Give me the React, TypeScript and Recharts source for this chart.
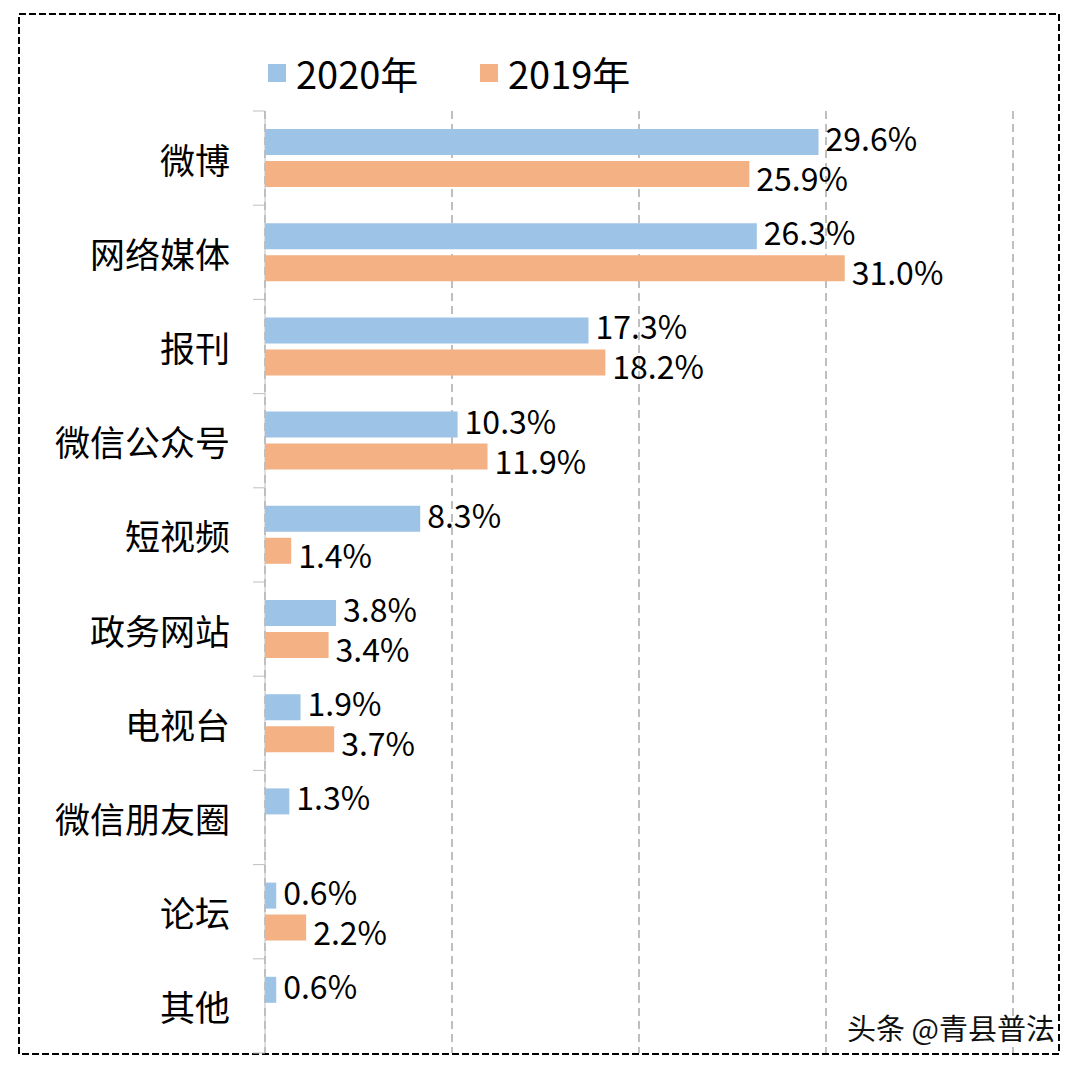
import React from 'react';
import { BarChart, Bar, XAxis, YAxis, CartesianGrid, LabelList } from 'recharts';

const categories = ['微博', '网络媒体', '报刊', '微信公众号', '短视频', '政务网站', '电视台', '微信朋友圈', '论坛', '其他'];
const values2020: (number | null)[] = [29.6, 26.3, 17.3, 10.3, 8.3, 3.8, 1.9, 1.3, 0.6, 0.6];
const values2019: (number | null)[] = [25.9, 31.0, 18.2, 11.9, 1.4, 3.4, 3.7, null, 2.2, null];
const xTicks = [0, 10, 20, 30, 40];
const seriesNames = ['2020年', '2019年'];
const seriesColors = ['#9DC3E6', '#F4B183'];
const watermark = '头条 @青县普法';

const data = categories.map((name, i) => ({ name, v2020: values2020[i], v2019: values2019[i] }));

const W = 1080;
const H = 1070;
const MARGIN = { top: 111, right: 67, bottom: 17, left: 0 };
const FONT = '"Noto Sans CJK SC", "Noto Sans", sans-serif';
const BAND = (H - MARGIN.top - MARGIN.bottom) / categories.length;

const CategoryTick = (props: any) => {
  const { x, y, payload, index } = props;
  const half = payload && typeof payload.offset === 'number' && payload.offset > 0 ? payload.offset : BAND / 2;
  return (
    <g>
      <line x1={x - 12} x2={x} y1={y - half} y2={y - half} stroke="#BFBFBF" strokeWidth={1} />
      {index === categories.length - 1 && (
        <line x1={x - 12} x2={x} y1={y + half} y2={y + half} stroke="#BFBFBF" strokeWidth={1} />
      )}
      <text x={x - 35} y={y} textAnchor="end" dominantBaseline="central" fontSize={35} fill="#000" fontFamily={FONT}>
        {payload.value}
      </text>
    </g>
  );
};

const makeLabel = (dy: number) => (props: any) => {
  const { x, y, width, height, value } = props;
  if (value === null || value === undefined || value === '') return null;
  return (
    <text
      x={Number(x) + Number(width) + 7}
      y={Number(y) + Number(height) / 2 + dy}
      dominantBaseline="central"
      fontSize={32}
      fill="#000"
      fontFamily={FONT}
    >
      {Number(value).toFixed(1)}%
    </text>
  );
};

const Label2020 = makeLabel(-5);
const Label2019 = makeLabel(3);

export default function App() {
  return (
    <div style={{ position: 'absolute', left: 0, top: 0, width: W, height: H, background: '#fff', fontFamily: FONT }}>
      <svg width={W} height={H} style={{ position: 'absolute', left: 0, top: 0 }}>
        <rect x={19} y={14} width={1040} height={1040} fill="none" stroke="#000" strokeWidth={2} strokeDasharray="7 3" />
      </svg>
      <div style={{ position: 'absolute', left: 0, top: 0 }}>
        <BarChart
          width={W}
          height={H}
          data={data}
          layout="vertical"
          margin={MARGIN}
          barSize={26}
          barGap={6}
        >
          <CartesianGrid horizontal={false} vertical={true} stroke="#7F7F7F" strokeDasharray="8 5" />
          <XAxis type="number" domain={[0, 40]} ticks={xTicks} hide />
          <YAxis
            type="category"
            dataKey="name"
            width={265}
            axisLine={{ stroke: '#BFBFBF', strokeWidth: 1 }}
            tickLine={false}
            tickSize={0}
            tickMargin={0}
            tick={<CategoryTick />}
            interval={0}
          />
          <Bar dataKey="v2020" name={seriesNames[0]} fill={seriesColors[0]} isAnimationActive={false}>
            <LabelList dataKey="v2020" content={<Label2020 />} />
          </Bar>
          <Bar dataKey="v2019" name={seriesNames[1]} fill={seriesColors[1]} isAnimationActive={false}>
            <LabelList dataKey="v2019" content={<Label2019 />} />
          </Bar>
        </BarChart>
      </div>
      {seriesNames.map((n, i) => (
        <div
          key={n}
          style={{
            position: 'absolute',
            left: i === 0 ? 268 : 480,
            top: 48,
            height: 50,
            display: 'flex',
            alignItems: 'center',
            fontSize: 38,
            color: '#000',
            lineHeight: '50px',
          }}
        >
          <span style={{ display: 'inline-block', width: 18, height: 18, background: seriesColors[i], marginRight: 10 }} />
          <span>{n}</span>
        </div>
      ))}
      <div
        style={{
          position: 'absolute',
          left: 847,
          top: 1006,
          fontSize: 29,
          color: '#111',
          lineHeight: '42px',
          whiteSpace: 'nowrap',
          textShadow: '1px 1px 0 #fff, -1px -1px 0 #fff, 1px -1px 0 #fff, -1px 1px 0 #fff',
        }}
      >
        {watermark}
      </div>
    </div>
  );
}
